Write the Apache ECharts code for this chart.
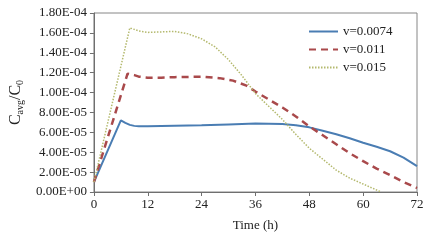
<!DOCTYPE html>
<html>
<head>
<meta charset="utf-8">
<script src="https://cdn.jsdelivr.net/npm/echarts@6/dist/echarts.min.js"></script>
<style>html,body{margin:0;padding:0;background:#fff}#c{width:433px;height:247px}</style>
</head>
<body>
<div id="c"></div>
<script>
var seriesNames = ['v=0.0074', 'v=0.011', 'v=0.015'];
var xTicks = [0, 12, 24, 36, 48, 60, 72];
var yTickLabels = ['0.00E+00','2.00E-05','4.00E-05','6.00E-05','8.00E-05','1.00E-04','1.20E-04','1.40E-04','1.60E-04','1.80E-04'];

var timeA = [0, 6, 7, 8, 9, 10, 12, 18, 24, 30, 36, 42, 45, 48, 51, 54, 57, 60, 63, 66, 69, 72];
var valA  = [1.0e-5, 7.2e-5, 6.95e-5, 6.75e-5, 6.65e-5, 6.6e-5, 6.6e-5, 6.65e-5, 6.7e-5, 6.8e-5, 6.9e-5, 6.85e-5, 6.72e-5, 6.5e-5, 6.15e-5, 5.8e-5, 5.4e-5, 4.95e-5, 4.55e-5, 4.1e-5, 3.45e-5, 2.6e-5];

var timeB = [0, 7.5, 9, 10, 12, 15, 18, 24, 28, 31, 34, 36, 39, 42, 45, 48, 51, 54, 57, 60, 63, 66, 69, 72];
var valB  = [1.0e-5, 1.19e-4, 1.175e-4, 1.16e-4, 1.15e-4, 1.15e-4, 1.155e-4, 1.16e-4, 1.145e-4, 1.12e-4, 1.07e-4, 1.01e-4, 9.3e-5, 8.5e-5, 7.6e-5, 6.6e-5, 5.7e-5, 4.8e-5, 3.9e-5, 3.1e-5, 2.35e-5, 1.7e-5, 1.0e-5, 0.4e-5];

var timeC = [0, 8, 9, 10, 12, 15, 18, 21, 24, 27, 30, 33, 36, 39, 42, 45, 48, 51, 54, 57, 60, 62, 64];
var valC  = [1.0e-5, 1.65e-4, 1.635e-4, 1.62e-4, 1.605e-4, 1.61e-4, 1.615e-4, 1.59e-4, 1.54e-4, 1.46e-4, 1.33e-4, 1.17e-4, 9.9e-5, 8.6e-5, 7.3e-5, 5.8e-5, 4.4e-5, 3.3e-5, 2.2e-5, 1.4e-5, 0.8e-5, 0.4e-5, 0];

function pairs(t, v) { return t.map(function (x, i) { return [x, v[i]]; }); }

var FONT = 'Liberation Serif';
var chart = echarts.init(document.getElementById('c'), null, {renderer: 'canvas'});
chart.setOption({
  animation: false,
  backgroundColor: '#fff',
  textStyle: {fontFamily: FONT},
  grid: {left: 91, right: 16, top: 13, bottom: 55, show: true, borderColor: '#868686', borderWidth: 1},
  legend: {
    orient: 'vertical', left: 303, top: 20, itemWidth: 29, itemHeight: 10, itemGap: 5,
    itemStyle: {opacity: 0, borderWidth: 0},
    textStyle: {fontFamily: FONT, fontSize: 13, color: '#222'},
    data: seriesNames
  },
  xAxis: {
    type: 'value', min: 0, max: 72, interval: 12,
    name: 'Time (h)', nameLocation: 'middle', nameGap: 27,
    nameTextStyle: {fontFamily: FONT, fontSize: 13, color: '#222'},
    axisLine: {lineStyle: {color: '#6f6f6f'}},
    axisTick: {show: true, length: 4, lineStyle: {color: '#6f6f6f'}},
    axisLabel: {fontFamily: FONT, fontSize: 13, color: '#222', margin: 6,
      formatter: function (v) { return xTicks.indexOf(v) >= 0 ? String(v) : ''; }},
    splitLine: {show: false}
  },
  yAxis: {
    type: 'value', min: 0, max: 1.8e-4, interval: 2e-5,
    name: '{m|C}{s|avg}{m|/C}{s|0}', nameLocation: 'middle', nameGap: 62, nameRotate: 90,
    nameTextStyle: {fontFamily: FONT, color: '#222',
      rich: {m: {fontFamily: FONT, fontSize: 16, color: '#222'},
             s: {fontFamily: FONT, fontSize: 10, color: '#222', verticalAlign: 'bottom', padding: [8, 0, 0, 0]}}},
    axisLine: {show: true, lineStyle: {color: '#6f6f6f'}},
    axisTick: {show: true, length: 4, lineStyle: {color: '#6f6f6f'}},
    axisLabel: {fontFamily: FONT, fontSize: 13, color: '#222', margin: 7,
      formatter: function (v) { var i = Math.round(v / 2e-5); return yTickLabels[i] || ''; }},
    splitLine: {show: false}
  },
  series: [
    {name: seriesNames[0], type: 'line', symbol: 'none', data: pairs(timeA, valA),
     lineStyle: {color: '#4a7db3', width: 2}, itemStyle: {color: '#4a7db3'}},
    {name: seriesNames[1], type: 'line', symbol: 'none', data: pairs(timeB, valB),
     lineStyle: {color: '#a9494b', width: 2.5, type: [7, 5]}, itemStyle: {color: '#a9494b'}},
    {name: seriesNames[2], type: 'line', symbol: 'none', data: pairs(timeC, valC),
     lineStyle: {color: '#b4b96e', width: 1.5, type: [1.5, 1.5]}, itemStyle: {color: '#b4b96e'}}
  ]
});
</script>
</body>
</html>
